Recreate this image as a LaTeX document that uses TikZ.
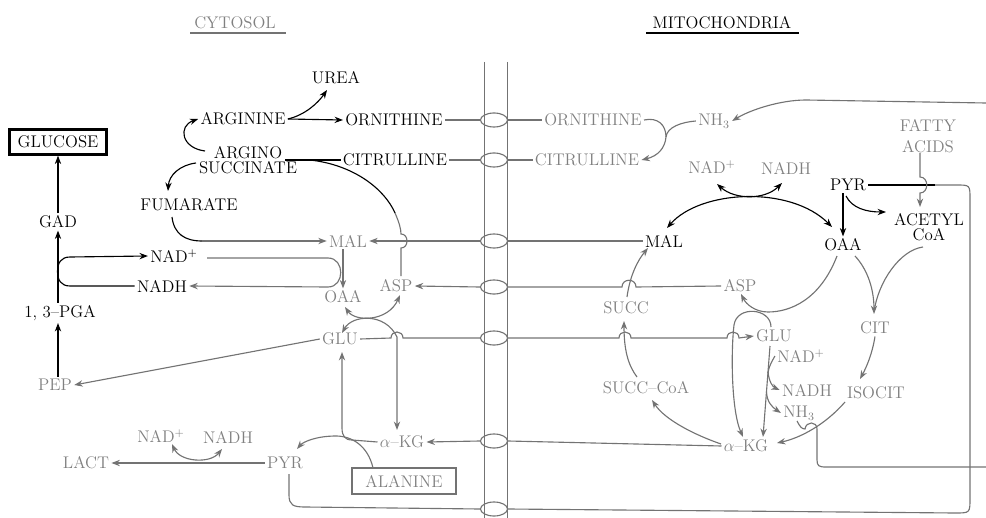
\documentclass[tikz,border=0pt]{standalone}
\usetikzlibrary{arrows.meta,shapes.geometric,calc}
\definecolor{gtxt}{gray}{0.5}
\definecolor{gline}{gray}{0.45}
\begin{document}
\begin{tikzpicture}[x=0.025cm,y=-0.025cm,
 every node/.style={font=\fontsize{12}{11}\selectfont, inner sep=1.5pt},
 bt/.style={text=black},
 gt/.style={text=gtxt},
 bl/.style={draw=black, line width=0.8pt},
 gl/.style={draw=gline, line width=0.8pt},
 ba/.style={bl, -{Stealth[length=6pt,width=4.5pt]}},
 baa/.style={bl, {Stealth[length=6pt,width=4.5pt]}-{Stealth[length=6pt,width=4.5pt]}},
 ga/.style={gl, -{Stealth[length=6pt,width=4.5pt]}},
 gaa/.style={gl, {Stealth[length=6pt,width=4.5pt]}-{Stealth[length=6pt,width=4.5pt]}},
 mem/.style={draw=gline, line width=0.8pt},
 tr/.style={ellipse, draw=gline, line width=0.8pt, minimum width=0.675cm, minimum height=0.35cm, inner sep=0pt},
 boxb/.style={draw=black, line width=1.6pt, minimum width=2.425cm, minimum height=0.625cm, inner sep=0pt},
 boxg/.style={draw=gline, line width=1.6pt, minimum width=2.6cm, minimum height=0.65cm, inner sep=0pt}
]
\useasboundingbox (0,0) rectangle (986,518);

% titles
\node[gt] (cyto) at (235,23) {CYTOSOL};
\draw[gl] (190,33) -- (286,33);
\node[bt] (mito) at (722,23) {MITOCHONDRIA};
\draw[bl] (646,33) -- (799,33);

% membrane
\draw[mem] (484.5,62) -- (484.5,518);
\draw[mem] (507.5,62) -- (507.5,518);
\node[tr] (t1) at (494,120) {};
\node[tr] (t2) at (494,160) {};
\node[tr] (t3) at (494,241) {};
\node[tr] (t4) at (494,287) {};
\node[tr] (t5) at (494,338) {};
\node[tr] (t6) at (494,441) {};
\node[tr] (t7) at (494,509) {};

% cytosol nodes
\node[boxb, bt] (glc) at (58,142) {GLUCOSE};
\node[bt] (gad) at (58,222) {GAD};
\node[bt] (pga) at (60,313) {1, 3--PGA};
\node[gt] (pep) at (55,385) {PEP};
\node[bt] (nadp1) at (174,256) {NAD$^+$};
\node[bt] (nadh1) at (162,286) {NADH};
\node[bt] (fum) at (189,205) {FUMARATE};
\node[bt] (arg) at (243,119) {ARGININE};
\node[bt, align=center] (argsuc) at (248,160) {ARGINO\\SUCCINATE};
\node[bt] (urea) at (336,78) {UREA};
\node[bt] (ornc) at (394,120) {ORNITHINE};
\node[bt] (citc) at (395,160) {CITRULLINE};
\node[gt] (malc) at (348,241) {MAL};
\node[gt] (aspc) at (396,286) {ASP};
\node[gt] (oaac) at (343,297) {OAA};
\node[gt] (gluc) at (340,339) {GLU};
\node[gt] (akgc) at (402,442) {$\alpha$--KG};
\node[gt] (pyrc) at (285,463) {PYR};
\node[boxg, gt] (ala) at (404,481) {ALANINE};
\node[gt] (lact) at (86,463) {LACT};
\node[gt] (nadp2) at (161,436) {NAD$^+$};
\node[gt] (nadh2) at (228,437) {NADH};

% mitochondria nodes
\node[gt] (ornm) at (593,120) {ORNITHINE};
\node[gt] (citm) at (587,160) {CITRULLINE};
\node[gt] (nh3a) at (714,121) {NH$_3$};
\node[gt] (nadp3) at (712,167) {NAD$^+$};
\node[gt] (nadh3) at (786,168) {NADH};
\node[bt] (malm) at (664,241) {MAL};
\node[bt] (oaam) at (843,245) {OAA};
\node[bt] (pyrm) at (848,185) {PYR};
\node[bt, align=center] (acoa) at (929,227) {ACETYL\\CoA};
\node[gt, align=center, font=\fontsize{12}{15}\selectfont] (fatty) at (928,136) {FATTY\\ACIDS};
\node[gt] (cit) at (875,328) {CIT};
\node[gt] (isocit) at (876,393) {ISOCIT};
\node[gt] (aspm) at (740,286) {ASP};
\node[gt] (glum) at (774,336) {GLU};
\node[gt] (succ) at (626,308) {SUCC};
\node[gt] (succoa) at (646,388) {SUCC--CoA};
\node[gt] (akgm) at (746,446) {$\alpha$--KG};
\node[gt] (nadp4) at (801,356) {NAD$^+$};
\node[gt] (nadh4) at (807,390) {NADH};
\node[gt] (nh3b) at (799,413) {NH$_3$};

% ---- cytosol black connectors
\draw[ba] (gad.south |- pga.north) -- (gad.south);
\draw[ba] (gad.north) -- (glc.south);
\draw[ba] (gad.south |- pep.north) -- (gad.south |- pga.south);
\draw[ba] (nadh1.west) -- (70,286) .. controls (61,286) and (57.5,280) .. (57.5,271.5)
  .. controls (57.5,263) and (61,257) .. (70,257) -- (nadp1.west);
\draw[ba] (205,151) .. controls (181,148) and (178,126) .. (arg.west);
\draw[ba] (196,163) .. controls (180,165) and (169,175) .. (168,191);
\draw[ba] (arg.east) .. controls (305,115) and (318,103) .. (327,90);
\draw[ba] (arg.east) -- (ornc.west);
\draw[bl] (citc.west) -- (285,160);
\draw[bl] (310,160) .. controls (355,165) and (385,190) .. (395,213);
\draw[gl] (395,213) .. controls (399,222) and (401,229) .. (401,234)
  .. controls (409,234) and (409,248) .. (401,248) -- (401,276);
\draw[bl] (172,217) .. controls (174,234) and (185,241) .. (202,241);
\draw[ga] (202,241) -- (malc.west);

% ---- cytosol gray connectors
\draw[ga] (207,258) -- (328,258) .. controls (345,258) and (345,287) .. (328,287) -- (nadh1.east);
\draw[ga] (malc.south -| oaac.north) -- (oaac.north);
\draw[gaa] (345,307) .. controls (355,322) and (388,322) .. (400,295);
\draw[gaa] (342,333) .. controls (352,315) and (385,312) .. (397,337) -- (397,430);
\draw[ga] (gluc.west) -- (pep.east);
\draw[ga] (akgc.west) -- (352,440) .. controls (345,440) and (342,436) .. (342,428) -- (342,352);
\draw[ga] (373,468) .. controls (368,446) and (352,436) .. (336,436)
  .. controls (316,436) and (303,442) .. (297,449);
\draw[ga] (pyrc.west) -- (lact.east);
\draw[gaa] (172,444) .. controls (180,462) and (210,464) .. (222,449);

% ---- transport lines
\draw[gl] (ornc.east) -- (t1.west);
\draw[gl] (t1.east) -- (ornm.west);
\draw[gl] (citc.east) -- (t2.west);
\draw[gl] (t2.east) -- (citm.west);
\draw[ga] (t3.west) -- (malc.east);
\draw[gl] (malm.west) -- (t3.east);
\draw[ga] (t4.west) -- (aspc.east);
\draw[gl] (aspm.west) -- (636,287) .. controls (636,278) and (622,278) .. (622,287) -- (t4.east);
\draw[gl] (gluc.east) -- (391,338) .. controls (391,330) and (403,330) .. (403,338) -- (t5.west);
\draw[ga] (t5.east) -- (619,338) .. controls (619,330) and (631,330) .. (631,338) -- (727,338)
  .. controls (727,330) and (739,330) .. (739,338) -- (glum.west);
\draw[ga] (t6.west) -- (akgc.east);
\draw[gl] (t6.east) -- (akgm.west);
\draw[gl] (289,474) -- (289,495) .. controls (289,505) and (293,507) .. (305,507) -- (t7.west);
\draw[gl] (t7.east) -- (955,513) .. controls (970,513) and (970,513) .. (970,498) -- (970,199)
  .. controls (970,185) and (970,185) .. (956,185) -- (935,185);
\draw[bl] (935,185) -- (pyrm.east);

% ---- mitochondria connectors
\draw[gl] (ornm.east) .. controls (658,117) and (666,125) .. (666,137);
\draw[ga] (nh3a.west) .. controls (682,122) and (667,127) .. (666,137)
  .. controls (665,148) and (658,156) .. (citm.east);
\draw[ga] (986,103) -- (806,100) .. controls (780,100) and (750,110) .. (nh3a.east);
\draw[baa] (717,184) .. controls (735,200) and (765,200) .. (782,183);
\draw[baa] (667,228) .. controls (700,190) and (790,185) .. (832,227);
\draw[ba] (pyrm.south -| oaam.north) -- (oaam.north);
\draw[ba] (846,196) .. controls (852,208) and (866,212) .. (886,212);
\draw[ga] (920,153) -- (920,177) .. controls (929,177) and (929,193) .. (920,193) -- (920,207);
\draw[gl] (923,247) .. controls (900,250) and (878,282) .. (874,312);
\draw[ga] (855,256) .. controls (868,270) and (874,290) .. (874,314);
\draw[ga] (837,256) .. controls (820,300) and (790,312) .. (768,312)
  .. controls (755,312) and (746,304) .. (741,294);
\draw[ga] (771,327) .. controls (771,308) and (737,305) .. (734,325)
  .. controls (731,350) and (731,410) .. (743,437);
\draw[ga] (770,346) -- (763,437);
\draw[gl] (nadp4.west) .. controls (774,358) and (769,365) .. (768,373);
\draw[ga] (768,372) .. controls (769,382) and (773,387) .. (nadh4.west);
\draw[ga] (766.5,392) .. controls (767,402) and (772,407) .. (nh3b.west);
\draw[ga] (845,402) .. controls (825,425) and (800,438) .. (777,443);
\draw[ga] (cit.south) .. controls (872,355) and (866,368) .. (860,379);
\draw[gl] (797,421) .. controls (800,427) and (802,429) .. (805,429)
  .. controls (806,421) and (817,421) .. (817,429) -- (817,460)
  .. controls (817,466) and (819,467) .. (826,467) -- (986,467);
\draw[ga] (721,444) .. controls (695,435) and (665,420) .. (652,400);
\draw[ga] (637,377) .. controls (628,365) and (624,350) .. (624,321);
\draw[ga] (627,297) .. controls (630,275) and (638,260) .. (648,248);
\end{tikzpicture}
\end{document}
